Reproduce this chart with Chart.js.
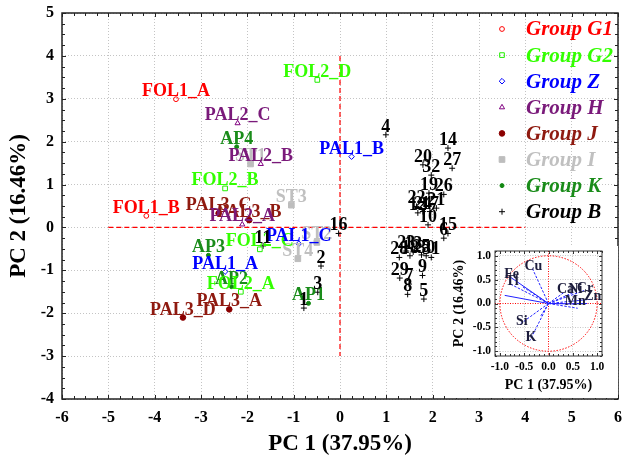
<!DOCTYPE html>
<html>
<head>
<meta charset="utf-8">
<script src="https://cdn.jsdelivr.net/npm/chart.js@4.4.0/dist/chart.umd.min.js"></script>
<style>
  html, body { margin: 0; padding: 0; background: #fff; }
  #wrap { position: relative; width: 623px; height: 462px; }
  #main { position: absolute; left: 0; top: 0; }
  #inset { position: absolute; left: 448px; top: 246px; background: #fff; }
</style>
</head>
<body>
<div id="wrap">
  <canvas id="main" width="623" height="462"></canvas>
  <canvas id="inset" width="170" height="152"></canvas>
</div>
<script>
// ---- score plot data (PC1, PC2) ----
const G1_NAMES = ['FOL1_A', 'FOL1_B'];
const G1_X = [-3.54, -4.18];
const G1_Y = [2.99, 0.27];

const G2_NAMES = ['FOL2_D', 'FOL2_B', 'FOL2_C', 'FOL2_A'];
const G2_X = [-0.49, -2.48, -1.73, -2.14];
const G2_Y = [3.44, 0.91, -0.51, -1.50];

const Z_NAMES = ['PAL1_B', 'PAL1_C', 'PAL1_A'];
const Z_X = [0.25, -0.89, -2.48];
const Z_Y = [1.65, -0.38, -1.03];

const H_NAMES = ['PAL2_C', 'PAL2_B', 'PAL2_A'];
const H_X = [-2.21, -1.71, -2.11];
const H_Y = [2.43, 1.48, 0.07];

const J_NAMES = ['PAL3_C', 'PAL3_B', 'PAL3_A', 'PAL3_D'];
const J_X = [-2.62, -1.96, -2.39, -3.39];
const J_Y = [0.33, 0.17, -1.91, -2.10];

const I_NAMES = ['ST1', 'ST3', 'ST2', 'ST4'];
const I_X = [-1.93, -1.05, -0.50, -0.91];
const I_Y = [1.48, 0.52, -0.35, -0.73];

const K_NAMES = ['AP4', 'AP3', 'AP2', 'AP1'];
const K_X = [-2.23, -2.84, -2.34, -0.68];
const K_Y = [1.88, -0.65, -1.38, -1.77];

const B_NAMES = ['1', '2', '3', '4', '5', '6', '7', '8', '9', '10', '11', '12', '13', '14', '15', '16',
                 '17', '18', '19', '20', '21', '22', '23', '24', '25', '26', '27', '28', '29', '30', '31', '32'];
const B_X = [-0.78, -0.41, -0.48, 0.99, 1.81, 2.24, 1.49, 1.46, 1.78, 1.90, -1.66, 1.68, 1.58, 2.33, 2.33, -0.03,
             1.94, 1.51, 1.92, 1.79, 2.08, 1.65, 1.43, 1.79, 1.76, 2.24, 2.42, 1.28, 1.29, 1.86, 1.97, 1.97];
const B_Y = [-1.88, -0.90, -1.51, 2.16, -1.67, -0.25, -1.32, -1.56, -1.12, 0.06, -0.43, 0.34, -0.57, 1.85, -0.14, -0.14,
             0.37, -0.66, 0.80, 1.46, 0.45, 0.49, -0.55, 0.37, -0.64, 0.77, 1.38, -0.70, -1.18, -0.66, -0.70, 1.22];

// red dashed reference lines
const HLINE_X = [-5, 4];
const HLINE_Y = [0, 0];
const VLINE_X = [0, 0];
const VLINE_Y = [4, -3];

// ---- loading plot (inset) ----
const LOAD_NAMES = ['Cu', 'Fe', 'Ti', '', '', 'Si', 'K', '', 'Ca', 'Ni', 'Cr', 'Zn', 'Mn', '', ''];
const LOAD_X = [-0.33, -0.78, -0.77, -0.90, -0.53, -0.57, -0.38, -0.17, 0.33, 0.53, 0.73, 0.89, 0.53, 0.60, 0.83];
const LOAD_Y = [0.73, 0.55, 0.40, 0.17, 0.35, -0.42, -0.77, -0.28, 0.24, 0.24, 0.27, 0.09, -0.01, -0.10, 0.00];
const INSET_TICKS = [-1, -0.5, 0, 0.5, 1];

const SERIF = "'Liberation Serif', 'Times New Roman', serif";

function pts(xs, ys) {
  return xs.map((x, i) => ({ x, y: ys[i] }));
}

function group(label, names, xs, ys, color, textColor, style, r, filled) {
  return {
    label,
    names,
    textColor,
    data: pts(xs, ys),
    pointStyle: style,
    pointRadius: r,
    pointHoverRadius: r,
    borderColor: color,
    backgroundColor: filled ? color : 'rgba(0,0,0,0)',
    borderWidth: 1,
  };
}

function refLine(xs, ys) {
  return {
    data: pts(xs, ys),
    showLine: true,
    borderColor: '#ff0000',
    borderWidth: 1.2,
    borderDash: [5, 3],
    pointRadius: 0,
    names: [],
  };
}

// fixed axis box sizes, no extra room for overhanging tick labels
const fixSize = (w, h) => (s) => {
  if (w) s.width = w;
  if (h) s.height = h;
  s.paddingLeft = s.paddingRight = s.paddingTop = s.paddingBottom = 0;
};

// border box with small inward ticks
const framePlugin = {
  id: 'frame',
  afterDraw(chart, args, opts) {
    const { ctx, chartArea: a, scales: { x, y } } = chart;
    ctx.save();
    ctx.strokeStyle = opts.color;
    ctx.lineWidth = opts.width;
    ctx.strokeRect(a.left, a.top, a.right - a.left, a.bottom - a.top);
    ctx.lineWidth = 1;
    const isMajor = (v) => Math.abs(v / opts.major - Math.round(v / opts.major)) < 1e-6;
    const nx = Math.round((x.max - x.min) / opts.minor);
    for (let i = 0; i <= nx; i++) {
      const v = x.min + i * opts.minor;
      const px = Math.round(x.getPixelForValue(v)) + 0.5;
      const len = isMajor(v) ? opts.majorLen : opts.minorLen;
      ctx.beginPath();
      ctx.moveTo(px, a.bottom); ctx.lineTo(px, a.bottom - len);
      ctx.moveTo(px, a.top); ctx.lineTo(px, a.top + len);
      ctx.stroke();
    }
    const ny = Math.round((y.max - y.min) / opts.minor);
    for (let i = 0; i <= ny; i++) {
      const v = y.min + i * opts.minor;
      const py = Math.round(y.getPixelForValue(v)) + 0.5;
      const len = isMajor(v) ? opts.majorLen : opts.minorLen;
      ctx.beginPath();
      ctx.moveTo(a.left, py); ctx.lineTo(a.left + len, py);
      ctx.moveTo(a.right, py); ctx.lineTo(a.right - len, py);
      ctx.stroke();
    }
    ctx.restore();
  }
};

// sample names above each point
const pointLabels = {
  id: 'pointLabels',
  afterDatasetsDraw(chart, args, opts) {
    const ctx = chart.ctx;
    ctx.save();
    ctx.font = opts.font;
    ctx.textAlign = 'center';
    ctx.textBaseline = 'alphabetic';
    opts.order.forEach((di) => {
      const ds = chart.data.datasets[di];
      const meta = chart.getDatasetMeta(di);
      ctx.fillStyle = ds.textColor;
      meta.data.forEach((el, i) => {
        const name = ds.names[i];
        if (name) ctx.fillText(name, el.x, el.y + opts.dy);
      });
    });
    ctx.restore();
  }
};

// legend in the top right corner of the plot
const cornerLegend = {
  id: 'cornerLegend',
  afterDraw(chart, args, opts) {
    const ctx = chart.ctx;
    ctx.save();
    ctx.font = opts.font;
    ctx.textBaseline = 'middle';
    ctx.textAlign = 'left';
    for (let i = 0; i < opts.count; i++) {
      const ds = chart.data.datasets[i];
      const y = opts.y0 + i * opts.step;
      ctx.fillStyle = ds.backgroundColor;
      ctx.strokeStyle = ds.borderColor;
      ctx.lineWidth = ds.borderWidth;
      Chart.helpers.drawPoint(ctx, { pointStyle: ds.pointStyle, radius: ds.pointRadius, rotation: 0, borderWidth: ds.borderWidth }, opts.markerX, y);
      ctx.fillStyle = ds.textColor;
      ctx.fillText(ds.label, opts.textX, y + 1);
    }
    ctx.restore();
  }
};

const tickFont = (size) => ({ family: SERIF, size, weight: 'bold' });

new Chart(document.getElementById('main'), {
  type: 'scatter',
  data: {
    datasets: [
      group('Group G1', G1_NAMES, G1_X, G1_Y, '#ff0000', '#ff0000', 'circle', 2.4, false),
      group('Group G2', G2_NAMES, G2_X, G2_Y, '#22ee00', '#33ff00', 'rect', 3.3, false),
      group('Group Z', Z_NAMES, Z_X, Z_Y, '#0000ff', '#0000ff', 'rectRot', 2.8, false),
      group('Group H', H_NAMES, H_X, H_Y, '#800080', '#7a1a7a', 'triangle', 3, false),
      group('Group J', J_NAMES, J_X, J_Y, '#8b0000', '#8f1a10', 'circle', 2.8, true),
      group('Group I', I_NAMES, I_X, I_Y, '#bdbdbd', '#c0c0c0', 'rect', 4, true),
      group('Group K', K_NAMES, K_X, K_Y, '#118811', '#1a8c1a', 'circle', 2, true),
      group('Group B', B_NAMES, B_X, B_Y, '#000000', '#000000', 'cross', 3, false),
      refLine(HLINE_X, HLINE_Y),
      refLine(VLINE_X, VLINE_Y),
    ]
  },
  options: {
    responsive: false,
    animation: false,
    layout: { padding: { top: 13, right: 2, left: 0, bottom: 0 } },
    plugins: {
      legend: { display: false },
      tooltip: { enabled: false },
      frame: { color: '#222', width: 1.5, minor: 0.25, major: 1, minorLen: 3, majorLen: 4 },
      pointLabels: { font: 'bold 18px ' + SERIF, dy: -3, order: [5, 4, 3, 6, 1, 2, 0, 7] },
      cornerLegend: { font: 'italic bold 21px ' + SERIF, count: 8, y0: 29, step: 26.1, markerX: 502, textX: 526 },
    },
    scales: {
      x: {
        type: 'linear', min: -6, max: 6,
        ticks: { stepSize: 1, padding: 9, color: '#000', font: tickFont(16) },
        grid: { color: '#c4c4c4', lineWidth: 1, drawTicks: false },
        border: { display: false, dash: [1, 2] },
        title: { display: true, text: 'PC 1 (37.95%)', color: '#000', font: tickFont(23), padding: { top: 0, bottom: 4 } },
        afterFit: fixSize(0, 63),
      },
      y: {
        type: 'linear', min: -4, max: 5,
        ticks: { stepSize: 1, padding: 8, color: '#000', font: tickFont(16) },
        grid: { color: '#c4c4c4', lineWidth: 1, drawTicks: false },
        border: { display: false, dash: [1, 2] },
        title: { display: true, text: 'PC 2 (16.46%)', color: '#000', font: tickFont(23), padding: { top: 5, bottom: 0 } },
        afterFit: fixSize(62, 0),
      }
    }
  },
  plugins: [framePlugin, pointLabels, cornerLegend]
});

// ---- inset: loading plot ----
const circlePlugin = {
  id: 'unitCircle',
  beforeDatasetsDraw(chart) {
    const { ctx, scales: { x, y } } = chart;
    const cx = x.getPixelForValue(0), cy = y.getPixelForValue(0);
    const rx = x.getPixelForValue(1) - cx, ry = cy - y.getPixelForValue(1);
    ctx.save();
    ctx.strokeStyle = '#ff0000';
    ctx.lineWidth = 1;
    ctx.setLineDash([1.5, 1.5]);
    ctx.beginPath();
    ctx.ellipse(cx, cy, rx, ry, 0, 0, Math.PI * 2);
    ctx.stroke();
    ctx.restore();
  }
};

const loadingLabels = {
  id: 'loadingLabels',
  afterDatasetsDraw(chart) {
    const ctx = chart.ctx;
    ctx.save();
    ctx.font = 'bold 14px ' + SERIF;
    ctx.fillStyle = '#1c1c3c';
    ctx.textAlign = 'center';
    ctx.textBaseline = 'alphabetic';
    chart.data.datasets.forEach((ds, di) => {
      if (!ds.name) return;
      const end = chart.getDatasetMeta(di).data[1];
      ctx.fillText(ds.name, end.x + 1, end.y + 1);
    });
    ctx.restore();
  }
};

const insetAxis = (title, pad) => ({
  type: 'linear', min: -1.1, max: 1.1,
  afterBuildTicks: (s) => { s.ticks = INSET_TICKS.map((v) => ({ value: v })); },
  ticks: { padding: pad, color: '#000', font: tickFont(11.5), callback: (v) => v.toFixed(1) },
  grid: { color: (c) => (c.tick && c.tick.value === 0 ? '#ff0000' : '#c8c8c8'), lineWidth: 1, drawTicks: false },
  border: { display: false, dash: [1, 1.5] },
  title: { display: true, text: title, color: '#000', font: tickFont(14), padding: { top: 3, bottom: 4 } },
});

new Chart(document.getElementById('inset'), {
  type: 'scatter',
  data: {
    datasets: LOAD_NAMES.map((name, i) => ({
      name,
      data: pts([0, LOAD_X[i]], [0, LOAD_Y[i]]),
      showLine: true,
      borderColor: '#2020ff',
      borderWidth: 1,
      borderDash: i === 3 || i === 1 || i === 12 ? [] : [2.5, 1.5],
      pointRadius: 0,
    }))
  },
  options: {
    responsive: false,
    animation: false,
    layout: { padding: { top: 5, right: 16, left: 0, bottom: 0 } },
    plugins: {
      legend: { display: false },
      tooltip: { enabled: false },
      frame: { color: '#333', width: 1, minor: 0.1, major: 0.5, minorLen: 2, majorLen: 3 },
    },
    scales: {
      x: Object.assign(insetAxis('PC 1 (37.95%)', 4), { afterFit: fixSize(0, 42) }),
      y: Object.assign(insetAxis('PC 2 (16.46%)', 4), { afterFit: fixSize(47, 0) }),
    }
  },
  plugins: [circlePlugin, framePlugin, loadingLabels]
});
</script>
</body>
</html>
